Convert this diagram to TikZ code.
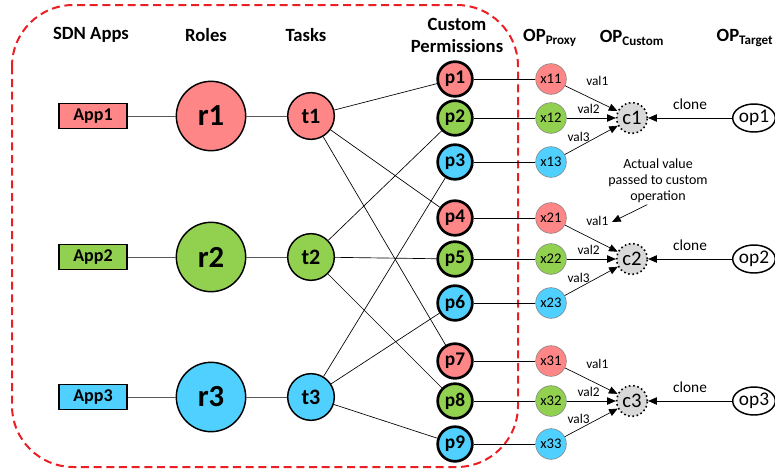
\documentclass[tikz,border=0pt]{standalone}
\usepackage{fontspec}
\setmainfont{Carlito}
\usetikzlibrary{arrows.meta,shapes.geometric,positioning}

\definecolor{rowred}{RGB}{255,134,134}
\definecolor{rowgreen}{RGB}{146,208,80}
\definecolor{rowblue}{RGB}{80,208,255}
\definecolor{custgray}{RGB}{217,217,217}
\definecolor{boxred}{RGB}{235,30,35}

\tikzset{
  head/.style={font=\bfseries\fontsize{14}{16.5}\selectfont, align=center},
  app/.style={draw, line width=1pt, minimum width=51pt, minimum height=19pt, inner sep=0pt, font=\bfseries\fontsize{13.5}{13.5}\selectfont},
  role/.style={draw, circle, line width=1.1pt, minimum size=52pt, inner sep=0pt, font=\bfseries\fontsize{23}{23}\selectfont},
  task/.style={draw, circle, line width=1.1pt, minimum size=35pt, inner sep=0pt, font=\bfseries\fontsize{16.5}{16.5}\selectfont},
  perm/.style={draw, circle, line width=2pt, minimum size=26pt, inner sep=0pt, font=\bfseries\fontsize{14.5}{14.5}\selectfont},
  proxy/.style={draw=gray, circle, line width=0.4pt, minimum size=23pt, inner sep=0pt, font=\fontsize{11}{11}\selectfont},
  cust/.style={draw, dotted, circle, fill=custgray, line width=1.2pt, minimum size=23pt, inner sep=0pt, font=\fontsize{15.5}{15.5}\selectfont},
  target/.style={draw, ellipse, line width=1.1pt, minimum width=31pt, minimum height=21pt, inner sep=0pt, font=\fontsize{14.5}{14.5}\selectfont},
  lbl/.style={font=\fontsize{10}{10}\selectfont, inner sep=1pt},
  arr/.style={-{Triangle[length=6.5pt,width=5.5pt]}, line width=0.5pt},
}

\begin{document}
\begin{tikzpicture}[x=0.75pt, y=-0.75pt]
  \useasboundingbox (0,0) rectangle (775,471);

  % outer dashed frame
  \draw[boxred, line width=1.5pt, dash pattern=on 6pt off 3.5pt, rounded corners=46pt] (12,5) rectangle (518,467);

  % column headers
  \node[head] (hApps) at (91,35) {SDN Apps};
  \node[head] (hRoles) at (206,35) {Roles};
  \node[head] (hTasks) at (306,35) {Tasks};
  \node[head] (hPerm) at (457,35) {Custom\\Permissions};
  \node[head] (hProxy) at (550,38) {OP\textsubscript{Proxy}};
  \node[head] (hCust) at (632,38) {OP\textsubscript{Custom}};
  \node[head] (hTarget) at (745,38) {OP\textsubscript{Target}};

  % apps, roles, tasks
  \node[app, fill=rowred] (A1) at (93,116) {App1};
  \node[app, fill=rowgreen] (A2) at (93,257) {App2};
  \node[app, fill=rowblue] (A3) at (93,397) {App3};

  \node[role, fill=rowred] (R1) at (211,116) {r1};
  \node[role, fill=rowgreen] (R2) at (211,257) {r2};
  \node[role, fill=rowblue] (R3) at (211,397) {r3};

  \node[task, fill=rowred] (T1) at (311,116) {t1};
  \node[task, fill=rowgreen] (T2) at (311,257) {t2};
  \node[task, fill=rowblue] (T3) at (311,397) {t3};

  \draw[gray!70!black, line width=0.7pt] (A1) -- (R1) -- (T1);
  \draw[gray!70!black, line width=0.7pt] (A2) -- (R2) -- (T2);
  \draw[gray!70!black, line width=0.7pt] (A3) -- (R3) -- (T3);

  % custom permissions
  \node[perm, fill=rowred] (P1) at (455,79) {p1};
  \node[perm, fill=rowgreen] (P2) at (455,118) {p2};
  \node[perm, fill=rowblue] (P3) at (455,162) {p3};
  \node[perm, fill=rowred] (P4) at (455,218) {p4};
  \node[perm, fill=rowgreen] (P5) at (455,259) {p5};
  \node[perm, fill=rowblue] (P6) at (455,303) {p6};
  \node[perm, fill=rowred] (P7) at (455,361) {p7};
  \node[perm, fill=rowgreen] (P8) at (455,401) {p8};
  \node[perm, fill=rowblue] (P9) at (455,444) {p9};

  \draw[line width=0.5pt] (T1) -- (P1) (T1) -- (P4) (T1) -- (P7);
  \draw[line width=0.5pt] (T2) -- (P2) (T2) -- (P5) (T2) -- (P8);
  \draw[line width=0.5pt] (T3) -- (P3) (T3) -- (P6) (T3) -- (P9);

  % proxy operations
  \node[proxy, fill=rowred] (X11) at (551,79) {x11};
  \node[proxy, fill=rowgreen] (X12) at (551,118) {x12};
  \node[proxy, fill=rowblue] (X13) at (551,162) {x13};
  \node[proxy, fill=rowred] (X21) at (551,218) {x21};
  \node[proxy, fill=rowgreen] (X22) at (551,259) {x22};
  \node[proxy, fill=rowblue] (X23) at (551,303) {x23};
  \node[proxy, fill=rowred] (X31) at (551,361) {x31};
  \node[proxy, fill=rowgreen] (X32) at (551,401) {x32};
  \node[proxy, fill=rowblue] (X33) at (551,444) {x33};

  \draw[line width=0.5pt] (P1) -- (X11) (P2) -- (X12) (P3) -- (X13);
  \draw[line width=0.5pt] (P4) -- (X21) (P5) -- (X22) (P6) -- (X23);
  \draw[line width=0.5pt] (P7) -- (X31) (P8) -- (X32) (P9) -- (X33);

  % custom and target operations
  \node[cust] (C1) at (632,118) {c1};
  \node[cust] (C2) at (632,259) {c2};
  \node[cust] (C3) at (632,401) {c3};

  \node[target] (OP1) at (754,118) {op1};
  \node[target] (OP2) at (754,259) {op2};
  \node[target] (OP3) at (754,401) {op3};

  \draw[arr] (X11) -- node[lbl, above right=8pt and -5pt] {val1} (C1);
  \draw[arr] (X12) -- node[lbl, above=2pt, xshift=-2pt] {val2} (C1);
  \draw[arr] (X13) -- node[lbl, above left=-2pt and 0pt] {val3} (C1);
  \draw[arr] (OP1) -- node[lbl, above=5pt, font=\fontsize{11.5}{11.5}\selectfont] {clone} (C1);

  \draw[arr] (X21) -- node[lbl, above right=8pt and -5pt] {val1} (C2);
  \draw[arr] (X22) -- node[lbl, above=2pt, xshift=-2pt] {val2} (C2);
  \draw[arr] (X23) -- node[lbl, above left=-2pt and 0pt] {val3} (C2);
  \draw[arr] (OP2) -- node[lbl, above=5pt, font=\fontsize{11.5}{11.5}\selectfont] {clone} (C2);

  \draw[arr] (X31) -- node[lbl, above right=8pt and -5pt] {val1} (C3);
  \draw[arr] (X32) -- node[lbl, above=2pt, xshift=-2pt] {val2} (C3);
  \draw[arr] (X33) -- node[lbl, above left=-2pt and 0pt] {val3} (C3);
  \draw[arr] (OP3) -- node[lbl, above=5pt, font=\fontsize{11.5}{11.5}\selectfont] {clone} (C3);

  % annotation
  \node[lbl, align=center, font=\fontsize{10.5}{12}\selectfont] (note) at (658,181) {Actual value\\passed to custom\\operation};
  \coordinate (noteEnd) at (612,222);
  \draw[arr] ([xshift=-8pt]note.south) -- (noteEnd);
\end{tikzpicture}
\end{document}
